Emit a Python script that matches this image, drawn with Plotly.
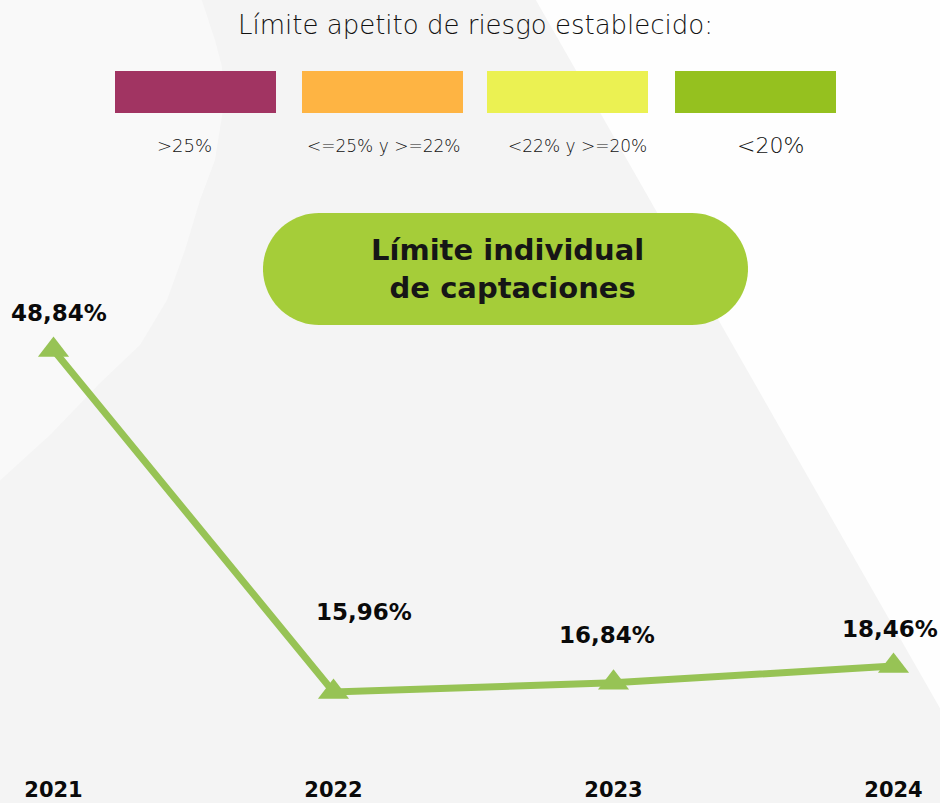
import numpy as np
import plotly.graph_objects as go

# ---- data ----
years = ["2021", "2022", "2023", "2024"]
values = [48.84, 15.96, 16.84, 18.46]

legend_labels = [">25%", "<=25% y >=22%", "<22% y >=20%", "<20%"]
legend_colors = ["#A13462", "#FEB443", "#EBF152", "#95C11F"]

legend_title = "Límite apetito de riesgo establecido:"
chart_title = "Límite individual<br> de captaciones"

# ---- layout helpers (pixel -> paper) ----
W, H = 940, 803
MB = 28
PH = H - MB


def pxx(x):
    return x / W


def pxy(y):
    return (PH - y) / PH


LINE_COLOR = "#97C355"
BOLD = "DejaVu Sans"
LIGHT = "DejaVu Sans"

fig = go.Figure()

fig.add_trace(go.Scatter(
    x=years, y=values, mode="lines+markers",
    line=dict(color=LINE_COLOR, width=7),
    marker=dict(symbol="triangle-up", size=27, color=LINE_COLOR),
    hoverinfo="skip", showlegend=False,
))

shapes = []

# background: lighter curved region at top-left
curve = [(-5, -5), (200, -5), (215, 40), (222, 67), (223, 110), (215, 160), (200, 200),
         (185, 250), (167, 300), (140, 345), (100, 383), (50, 435), (-5, 485)]
path = "M " + " L ".join("{:.4f},{:.4f}".format(pxx(x), pxy(y)) for x, y in curve) + " Z"
shapes.append(dict(type="path", xref="paper", yref="paper", path=path,
                   fillcolor="#F9F9F9", line=dict(width=0), layer="below"))

# background: white diagonal wedge at the right
wedge = [(533, -5), (945, -5), (945, 717)]
path = "M " + " L ".join("{:.4f},{:.4f}".format(pxx(x), pxy(y)) for x, y in wedge) + " Z"
shapes.append(dict(type="path", xref="paper", yref="paper", path=path,
                   fillcolor="#FEFEFE", line=dict(width=0), layer="below"))

# legend colour boxes
box_x0 = [115, 302, 487, 675]
box_w = 161
for x0, col in zip(box_x0, legend_colors):
    shapes.append(dict(type="rect", xref="paper", yref="paper",
                       x0=pxx(x0), x1=pxx(x0 + box_w), y0=pxy(113), y1=pxy(71),
                       fillcolor=col, line=dict(width=0), layer="below"))

# pill behind the chart title
L, R, T, B = 263, 748, 213, 325
rad = (B - T) / 2
cyp = (T + B) / 2
pts = [(L + rad, T), (R - rad, T)]
for a in np.linspace(-np.pi / 2, np.pi / 2, 40):
    pts.append((R - rad + rad * np.cos(a), cyp + rad * np.sin(a)))
pts.append((L + rad, B))
for a in np.linspace(np.pi / 2, 3 * np.pi / 2, 40):
    pts.append((L + rad + rad * np.cos(a), cyp + rad * np.sin(a)))
path = "M " + " L ".join("{:.4f},{:.4f}".format(pxx(x), pxy(y)) for x, y in pts) + " Z"
shapes.append(dict(type="path", xref="paper", yref="paper", path=path,
                   fillcolor="#A5CD39", line=dict(width=0), layer="below"))

annotations = []
annotations.append(dict(xref="paper", yref="paper", x=pxx(475), y=pxy(25),
                        text=legend_title, showarrow=False, xanchor="center", yanchor="middle",
                        font=dict(family=LIGHT, size=26, color="#111111", weight=200)))

leg_cx = [184, 383, 577, 770]
leg_size = [18, 17, 17, 22]
for cxl, lab, fs in zip(leg_cx, legend_labels, leg_size):
    annotations.append(dict(xref="paper", yref="paper", x=pxx(cxl), y=pxy(146),
                            text=lab.replace("<", "&lt;").replace(">", "&gt;"),
                            showarrow=False, xanchor="center", yanchor="middle",
                            font=dict(family=LIGHT, size=fs, color="#111111", weight=200)))

annotations.append(dict(xref="paper", yref="paper", x=pxx(507), y=pxy(269),
                        text=chart_title, showarrow=False, xanchor="center", yanchor="middle",
                        align="center",
                        font=dict(family=BOLD, size=29, color="#161616", weight=700)))

# data labels (positioned on the data axes)
label_dx = [5, 30, -7, -4]
label_dy = [-37, -80, -48, -37]
for i, (v, dx, dy) in enumerate(zip(values, label_dx, label_dy)):
    annotations.append(dict(x=i, y=v, xref="x", yref="y",
                            text=f"{v:.2f}".replace(".", ",") + "%",
                            showarrow=False, xanchor="center", yanchor="middle",
                            xshift=dx, yshift=-dy,
                            font=dict(family=BOLD, size=23, color="#0A0A0A", weight=700)))

# y mapping: 48.84 -> px 350, 15.96 -> px 692
scale = (692 - 350) / (values[0] - values[1])
y_top = values[0] + 350 / scale
y_bot = values[1] - (PH - 692) / scale
# x mapping: first category at px 53.5, last at px 893.5
span = (len(years) - 1) * W / (893.5 - 53.5)
x_lo = -53.5 / W * span
x_hi = x_lo + span

fig.update_layout(
    width=W, height=H,
    margin=dict(l=0, r=0, t=0, b=MB),
    paper_bgcolor="#F4F4F4", plot_bgcolor="rgba(0,0,0,0)",
    shapes=shapes, annotations=annotations,
    xaxis=dict(type="category", range=[x_lo, x_hi], showgrid=False, zeroline=False,
               showline=False, ticks="", fixedrange=True,
               tickfont=dict(family=BOLD, size=21, color="#0A0A0A", weight=700)),
    yaxis=dict(range=[y_bot, y_top], visible=False, fixedrange=True),
    showlegend=False,
)

fig.write_html("out.html", config=dict(displayModeBar=False),
               post_script="document.body.style.margin='0';document.body.style.overflow='hidden';")
